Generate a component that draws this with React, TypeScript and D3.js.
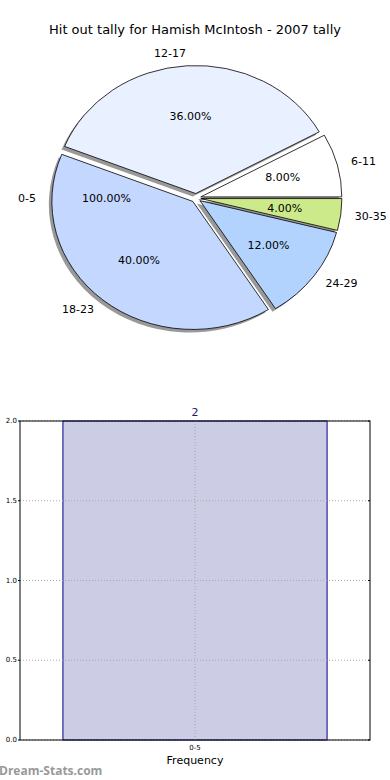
import React, { useEffect, useRef } from 'react';
import * as d3 from 'd3';

// pie data (counts, slice order as drawn counter-clockwise from 3 o'clock)
const pieCategories = ['6-11', '12-17', '18-23', '24-29', '30-35'];
const pieValues = [2, 9, 10, 3, 1];
const pieColors = ['#ffffff', '#e9f0ff', '#c4d7ff', '#b3d3ff', '#cdea8a'];
// empty category drawn only as labels at the left
const emptyCategory = '0-5';
const emptyPctLabel = '100.00%';

// bar data
const barCategories = ['0-5'];
const barValues = [2];
const yTicks = [0, 0.5, 1.0, 1.5, 2.0];

const FONT = '"DejaVu Sans", sans-serif';

const App: React.FC = () => {
  const svgRef = useRef<SVGSVGElement>(null);

  useEffect(() => {
    if (!svgRef.current) return;
    const svg = d3.select(svgRef.current);
    svg.selectAll('*').remove();

    const width = 390;
    const height = 780;
    svg.attr('width', width).attr('height', height);

    // Title
    svg.append('text')
      .attr('x', 195)
      .attr('y', 34)
      .attr('text-anchor', 'middle')
      .style('font-family', FONT)
      .style('font-size', '13px')
      .style('fill', '#000')
      .text('Hit out tally for Hamish McIntosh - 2007 tally');

    // ---- Pie ----
    const cx = 196;
    const cy = 198;
    const rx = 141;
    const ry = 128;
    const explode = 0.035;
    const base = 100;
    const total = d3.sum(pieValues);

    const pie = d3.pie<number>()
      .sort(null)
      .startAngle(Math.PI / 2)
      .endAngle(Math.PI / 2 - 2 * Math.PI);
    const arcs = pie(pieValues);
    const arc = d3.arc<d3.PieArcDatum<number>>()
      .innerRadius(0)
      .outerRadius(base);

    // matplotlib-style angle (ccw from east) of slice middle
    const theta = (d: d3.PieArcDatum<number>) => Math.PI / 2 - (d.startAngle + d.endAngle) / 2;
    const pos = (t: number, k: number) => [cx + Math.cos(t) * rx * k, cy - Math.sin(t) * ry * k];

    const sx = rx / base;
    const sy = ry / base;

    // Shadows
    const shadow = svg.append('g');
    arcs.forEach(d => {
      const [ox, oy] = pos(theta(d), explode);
      shadow.append('path')
        .attr('d', arc(d) as string)
        .attr('transform', `translate(${ox - 3},${oy + 3}) scale(${sx},${sy})`)
        .attr('fill', '#333')
        .attr('fill-opacity', 0.5)
        .attr('stroke', 'none');
    });

    // Wedges
    const wedges = svg.append('g');
    arcs.forEach((d, i) => {
      const [ox, oy] = pos(theta(d), explode);
      wedges.append('path')
        .attr('d', arc(d) as string)
        .attr('transform', `translate(${ox},${oy}) scale(${sx},${sy})`)
        .attr('fill', pieColors[i])
        .attr('stroke', '#000')
        .attr('stroke-width', 0.8)
        .attr('vector-effect', 'non-scaling-stroke');
    });

    const labels = svg.append('g')
      .style('font-family', FONT)
      .style('font-size', '11px')
      .style('fill', '#000');

    arcs.forEach((d, i) => {
      const t = theta(d);
      const [lx, ly] = pos(t, 1.1 + explode);
      labels.append('text')
        .attr('x', lx)
        .attr('y', ly)
        .attr('text-anchor', Math.cos(t) > 0 ? 'start' : 'end')
        .attr('dominant-baseline', 'central')
        .text(pieCategories[i]);
      const [px, py] = pos(t, 0.6 + explode);
      labels.append('text')
        .attr('x', px)
        .attr('y', py)
        .attr('text-anchor', 'middle')
        .attr('dominant-baseline', 'central')
        .text(`${((d.value / total) * 100).toFixed(2)}%`);
    });

    // empty category labels at the left
    const [elx, ely] = pos(Math.PI, 1.1 + explode);
    labels.append('text')
      .attr('x', elx)
      .attr('y', ely)
      .attr('text-anchor', 'end')
      .attr('dominant-baseline', 'central')
      .text(emptyCategory);
    const [epx, epy] = pos(Math.PI, 0.6 + explode);
    labels.append('text')
      .attr('x', epx)
      .attr('y', epy)
      .attr('text-anchor', 'middle')
      .attr('dominant-baseline', 'central')
      .text(emptyPctLabel);

    // ---- Bar chart ----
    const left = 20;
    const right = 370;
    const top = 421;
    const bottom = 740;

    const xScale = d3.scaleLinear().domain([-0.53, 0.53]).range([left, right]);
    const yScale = d3.scaleLinear().domain([0, 2]).range([bottom, top]);
    const barWidth = 0.8;

    const bars = svg.append('g');
    barValues.forEach((v, i) => {
      bars.append('rect')
        .attr('x', xScale(i - barWidth / 2))
        .attr('y', yScale(v))
        .attr('width', xScale(i + barWidth / 2) - xScale(i - barWidth / 2))
        .attr('height', yScale(0) - yScale(v))
        .attr('fill', '#ccccE5')
        .attr('stroke', '#00008b')
        .attr('stroke-width', 1);
      svg.append('text')
        .attr('x', xScale(i))
        .attr('y', yScale(v) - 5)
        .attr('text-anchor', 'middle')
        .style('font-family', FONT)
        .style('font-size', '11px')
        .style('fill', '#1a1a60')
        .text(String(v));
    });

    // grid
    const grid = svg.append('g')
      .attr('stroke', '#aaaaaa')
      .attr('stroke-width', 1)
      .attr('stroke-dasharray', '1,2');
    yTicks.forEach(t => {
      grid.append('line')
        .attr('x1', left).attr('x2', right)
        .attr('y1', yScale(t)).attr('y2', yScale(t));
    });
    barCategories.forEach((_, i) => {
      grid.append('line')
        .attr('x1', xScale(i)).attr('x2', xScale(i))
        .attr('y1', top).attr('y2', bottom);
    });

    // frame
    svg.append('rect')
      .attr('x', left)
      .attr('y', top)
      .attr('width', right - left)
      .attr('height', bottom - top)
      .attr('fill', 'none')
      .attr('stroke', '#000')
      .attr('stroke-width', 1);

    // y ticks
    const yAxis = svg.append('g')
      .style('font-family', FONT)
      .style('font-size', '7px')
      .style('fill', '#000');
    yTicks.forEach(t => {
      svg.append('line')
        .attr('x1', left - 2).attr('x2', left)
        .attr('y1', yScale(t)).attr('y2', yScale(t))
        .attr('stroke', '#000');
      svg.append('line')
        .attr('x1', right - 2).attr('x2', right)
        .attr('y1', yScale(t)).attr('y2', yScale(t))
        .attr('stroke', '#000');
      yAxis.append('text')
        .attr('x', left - 3)
        .attr('y', yScale(t))
        .attr('text-anchor', 'end')
        .attr('dominant-baseline', 'central')
        .text(t.toFixed(1));
    });

    // x ticks
    barCategories.forEach((c, i) => {
      svg.append('text')
        .attr('x', xScale(i))
        .attr('y', bottom + 10)
        .attr('text-anchor', 'middle')
        .style('font-family', FONT)
        .style('font-size', '7px')
        .text(c);
    });

    svg.append('text')
      .attr('x', 195)
      .attr('y', 764)
      .attr('text-anchor', 'middle')
      .style('font-family', FONT)
      .style('font-size', '11px')
      .text('Frequency');

    // watermark
    svg.append('text')
      .attr('x', -1)
      .attr('y', 775)
      .style('font-family', '"Open Sans", sans-serif')
      .style('font-size', '12px')
      .style('font-weight', 'bold')
      .style('fill', '#999999')
      .text('Dream-Stats.com');
  }, []);

  return (
    <div style={{ position: 'absolute', left: 0, top: 0 }}>
      <svg ref={svgRef}></svg>
    </div>
  );
};

export default App;
